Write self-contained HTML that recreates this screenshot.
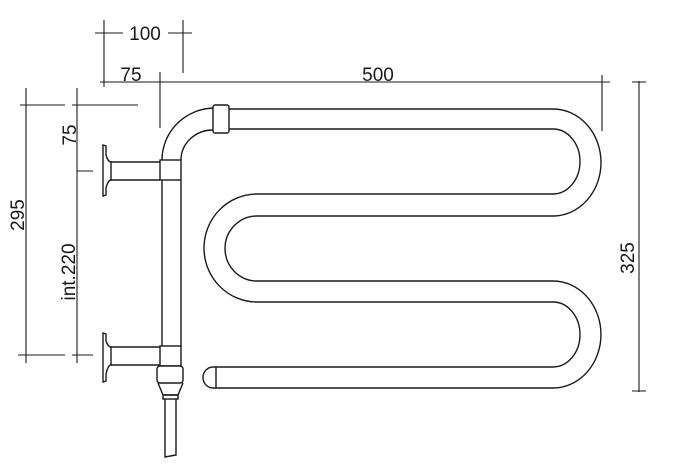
<!DOCTYPE html>
<html><head><meta charset="utf-8"><style>
html,body{margin:0;padding:0;background:#fff;}
svg{display:block;}
text{font-family:"Liberation Sans",Arial,sans-serif;font-size:19px;fill:#1a1a1a;}
</style></head><body>
<svg width="684" height="474" viewBox="0 0 684 474" xmlns="http://www.w3.org/2000/svg">
<g fill="none" stroke="#1a1a1a" stroke-width="1.4">
<path d="M162,160 A53,52 0 0 1 215,108 M181,160 A32,30 0 0 1 213,130"/>
<path d="M228,109 L553,109 A48,53.5 0 0 1 553,216 L257,216 A32,32.5 0 0 0 257,281 L553,281 A48,53.5 0 0 1 553,388 L216,388"/>
<path d="M228,129 L553,129 A27,32.5 0 0 1 553,194 L257,194 A53,54 0 0 0 257,302 L553,302 A27,32.5 0 0 1 553,367 L216,367"/>
<path d="M216,367 L216,388 M216,367 L213,367 A10,10.5 0 0 0 213,388 L216,388"/>
<rect x="213" y="105" width="16" height="28" rx="2" fill="#fff"/>
<path d="M162,180 L162,346 M181,180 L181,346"/>
<rect x="160" y="160" width="21" height="20" fill="#fff"/>
<rect x="160" y="346" width="21" height="20" fill="#fff"/>
<rect x="157" y="366" width="26" height="17" rx="3" fill="#fff"/>
<path d="M158,383 L163,395 L178,395 L183,383"/>
<rect x="163" y="395" width="15" height="4"/>
<path d="M165,399 L165,457 L176,455 L176,399"/>
<path d="M111,162 L160,162 M111,180 L160,180"/>
<path d="M103,145 L106,146 L106,155 Q108,162 111,162 L111,180 Q108,180 106,188 L106,195 L103,196 Z"/>
<path d="M111,347 L160,347 M111,365 L160,365"/>
<path d="M103,333 L106,334 L106,341 Q108,347 111,347 L111,365 Q108,365 106,374 L106,381 L103,382 Z"/>
<g stroke-width="1.1">
<path d="M95,33 L123,33 M168,33 L192,33 M104,20 L104,87 M183,20 L183,73"/>
<path d="M100,82 L610,82 M160,72 L160,128 M602,75 L602,131"/>
<path d="M20,105 L65,105 M72,105 L138,105 M26,88 L26,363 M77,88 L77,363 M77,171 L93,171"/>
<path d="M18,355 L65,355 M72,355 L93,355"/>
<path d="M639,81 L639,392 M632,82 L646,82 M632,391 L646,391"/>
</g>
</g>
<text x="145" y="40" text-anchor="middle">100</text>
<text x="131" y="81" text-anchor="middle">75</text>
<text x="378" y="81" text-anchor="middle">500</text>
<text transform="translate(634,258) rotate(-90)" text-anchor="middle">325</text>
<text transform="translate(24,215) rotate(-90)" text-anchor="middle">295</text>
<text transform="translate(76,135) rotate(-90)" text-anchor="middle">75</text>
<text transform="translate(75,272) rotate(-90)" text-anchor="middle">int.220</text>
</svg>
</body></html>
